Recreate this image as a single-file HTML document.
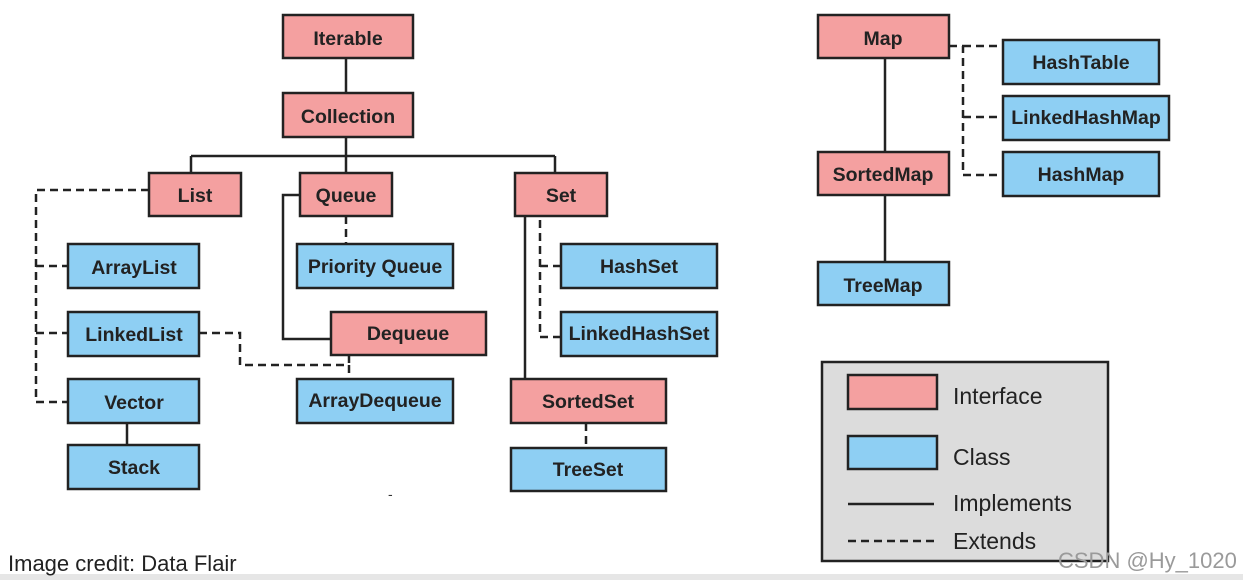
<!DOCTYPE html>
<html><head><meta charset="utf-8"><style>
html,body{margin:0;padding:0;background:#fff;}
svg{display:block;}
text{font-family:"Liberation Sans",sans-serif;}
.b{font-weight:bold;font-size:19.5px;fill:#222;text-anchor:middle;dominant-baseline:central;}
.i{fill:#f4a0a0;stroke:#222;stroke-width:2.5;}
.c{fill:#8ecff3;stroke:#222;stroke-width:2.5;}
.s{stroke:#222;stroke-width:2.5;fill:none;}
.d{stroke:#222;stroke-width:2.5;fill:none;stroke-dasharray:8 5;}
.l{font-size:23px;fill:#222;}
</style></head><body>
<svg width="1243" height="580" viewBox="0 0 1243 580">
<rect x="0" y="574" width="1243" height="6" fill="#e6e6e6"/>
<path class="s" d="M346 58V93M346 137V156M191 156H555M191 156V173M346 156V173M555 156V173"/>
<path class="d" d="M149 190H36V402H68M36 266H68M36 333H68"/>
<path class="s" d="M300 195H283V339H331"/>
<path class="d" d="M346 216V244"/>
<path class="d" d="M199 333H240V365H349V379M349 355V365"/>
<path class="s" d="M127 423V445"/>
<path class="s" d="M525 216V379"/>
<path class="d" d="M540 220V337H561M540 266H561"/>
<path class="d" d="M586 423V448"/>
<path class="s" d="M885 58V152M885 195V262"/>
<path class="d" d="M949 46H963V175H1003M963 46H1003M963 117H1003"/>
<g transform="translate(0,2)">
<rect class="i" x="283" y="13" width="130" height="43"/><text class="b" x="348" y="37">Iterable</text>
<rect class="i" x="283" y="91" width="130" height="44"/><text class="b" x="348" y="115">Collection</text>
</g>
<rect class="i" x="149" y="173" width="92" height="43"/><text class="b" x="195" y="196">List</text>
<rect class="i" x="300" y="173" width="92" height="43"/><text class="b" x="346" y="196">Queue</text>
<rect class="i" x="515" y="173" width="92" height="43"/><text class="b" x="561" y="196">Set</text>
<rect class="c" x="68" y="244" width="131" height="44"/><text class="b" x="134" y="268">ArrayList</text>
<rect class="c" x="297" y="244" width="156" height="44"/><text class="b" x="375" y="267">Priority Queue</text>
<rect class="c" x="68" y="312" width="131" height="44"/><text class="b" x="134" y="335">LinkedList</text>
<rect class="i" x="331" y="312" width="155" height="43"/><text class="b" x="408" y="334">Dequeue</text>
<rect class="c" x="68" y="379" width="131" height="44"/><text class="b" x="134" y="403">Vector</text>
<rect class="c" x="297" y="379" width="156" height="44"/><text class="b" x="375" y="401">ArrayDequeue</text>
<rect class="c" x="68" y="445" width="131" height="44"/><text class="b" x="134" y="468">Stack</text>
<rect class="c" x="561" y="244" width="156" height="44"/><text class="b" x="639" y="267">HashSet</text>
<rect class="c" x="561" y="312" width="156" height="44"/><text class="b" x="639" y="334">LinkedHashSet</text>
<rect class="i" x="511" y="379" width="155" height="44"/><text class="b" x="588" y="402">SortedSet</text>
<rect class="c" x="511" y="448" width="155" height="43"/><text class="b" x="588" y="470">TreeSet</text>
<rect class="i" x="818" y="15" width="131" height="43"/><text class="b" x="883" y="39">Map</text>
<rect class="c" x="1003" y="40" width="156" height="44"/><text class="b" x="1081" y="63">HashTable</text>
<rect class="c" x="1003" y="96" width="166" height="44"/><text class="b" x="1086" y="118">LinkedHashMap</text>
<rect class="c" x="1003" y="152" width="156" height="44"/><text class="b" x="1081" y="175">HashMap</text>
<rect class="i" x="818" y="152" width="131" height="43"/><text class="b" x="883" y="175">SortedMap</text>
<rect class="c" x="818" y="262" width="131" height="43"/><text class="b" x="883" y="286">TreeMap</text>
<rect x="822" y="362" width="286" height="199" fill="#dcdcdc" stroke="#222" stroke-width="2.5"/>
<rect class="i" x="848" y="375" width="89" height="34"/>
<rect class="c" x="848" y="436" width="89" height="33"/>
<line class="s" x1="848" y1="504" x2="934" y2="504"/>
<line class="d" x1="848" y1="541" x2="934" y2="541"/>
<text class="l" x="953" y="404">Interface</text>
<text class="l" x="953" y="465">Class</text>
<text class="l" x="953" y="511">Implements</text>
<text class="l" x="953" y="549">Extends</text>
<text x="1058" y="568" font-size="22" fill="#9a9a9a">CSDN @Hy_1020</text>
<text x="8" y="571" font-size="22" fill="#222">Image credit: Data Flair</text>
<text x="388" y="499" font-size="14" fill="#333">-</text>
</svg>
</body></html>
